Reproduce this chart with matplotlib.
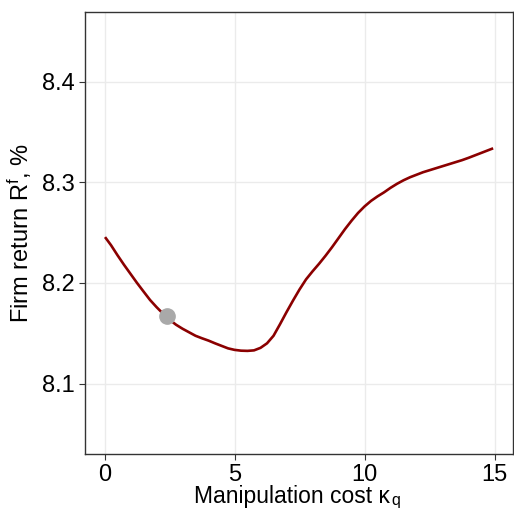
import numpy as np
import matplotlib.pyplot as plt

# readings from the curve (manipulation cost vs firm return)
kappa = [0.05, 0.25, 0.5, 0.75, 1.0, 1.25, 1.5, 1.75, 2.0, 2.25, 2.5, 2.75,
         3.0, 3.25, 3.5, 3.75, 4.0, 4.25, 4.5, 4.75, 5.0, 5.25, 5.5, 5.75,
         6.0, 6.25, 6.5, 6.75, 7.0, 7.25, 7.5, 7.75, 8.0, 8.25, 8.5, 8.75,
         9.0, 9.25, 9.5, 9.75, 10.0, 10.25, 10.5, 10.75, 11.0, 11.25, 11.5,
         11.75, 12.0, 12.25, 12.5, 12.75, 13.0, 13.25, 13.5, 13.75, 14.0,
         14.25, 14.5, 14.75, 14.9]
ret = [8.2445, 8.2375, 8.2275, 8.218, 8.209, 8.200, 8.1915, 8.1831, 8.176,
       8.1695, 8.1635, 8.1585, 8.1545, 8.151, 8.1475, 8.145, 8.1427, 8.140,
       8.1375, 8.135, 8.1335, 8.1327, 8.1325, 8.133, 8.1355, 8.140, 8.1475,
       8.159, 8.171, 8.1825, 8.1935, 8.2035, 8.2115, 8.219, 8.227, 8.2355,
       8.2445, 8.2535, 8.2618, 8.2695, 8.276, 8.2815, 8.286, 8.290, 8.2945,
       8.2985, 8.302, 8.305, 8.3075, 8.310, 8.312, 8.314, 8.316, 8.318, 8.320,
       8.322, 8.3243, 8.3268, 8.3293, 8.3318, 8.3333]
# highlighted point
kappa_pt = [2.4]
ret_pt = [8.167]

plt.rcParams['font.family'] = ['Liberation Sans', 'DejaVu Sans']

fig = plt.figure(figsize=(5.14, 5.09), dpi=100)
ax = fig.add_axes([0.1644, 0.108, 0.8336, 0.868])

ax.plot(kappa, ret, color="#8B0000", lw=1.9, solid_joinstyle="round", zorder=3)
ax.plot(kappa_pt, ret_pt, "o", color="#A9A9A9", ms=11, zorder=4)

ax.set_xlim(-0.77, 15.71)
ax.set_ylim(8.030, 8.469)
ax.set_xticks([0, 5, 10, 15])
ax.set_yticks([8.1, 8.2, 8.3, 8.4])
ax.set_xticklabels(["0", "5", "10", "15"])
ax.set_yticklabels(["8.1", "8.2", "8.3", "8.4"])

ax.grid(True, color="#EBEBEB", lw=1.0)
ax.set_axisbelow(True)
for s in ax.spines.values():
    s.set_color("#333333")
    s.set_linewidth(1.0)
ax.tick_params(colors="#333333", labelcolor="black", labelsize=17, length=4, width=0.8, pad=3)

# x label: main text plus a small subscript q
ax.set_xlabel("Manipulation cost κ", fontsize=16.5)
ax.xaxis.set_label_coords(0.485, -0.069)
ax.annotate("q", xy=(1, 0), xycoords=ax.xaxis.label, xytext=(0.5, 1.5),
            textcoords="offset points", fontsize=11.5, va="baseline", ha="left")
ax.set_ylabel("Firm return R$\\mathregular{^f}$, %", fontsize=17, labelpad=6)

fig.savefig("out.png", dpi=100)
